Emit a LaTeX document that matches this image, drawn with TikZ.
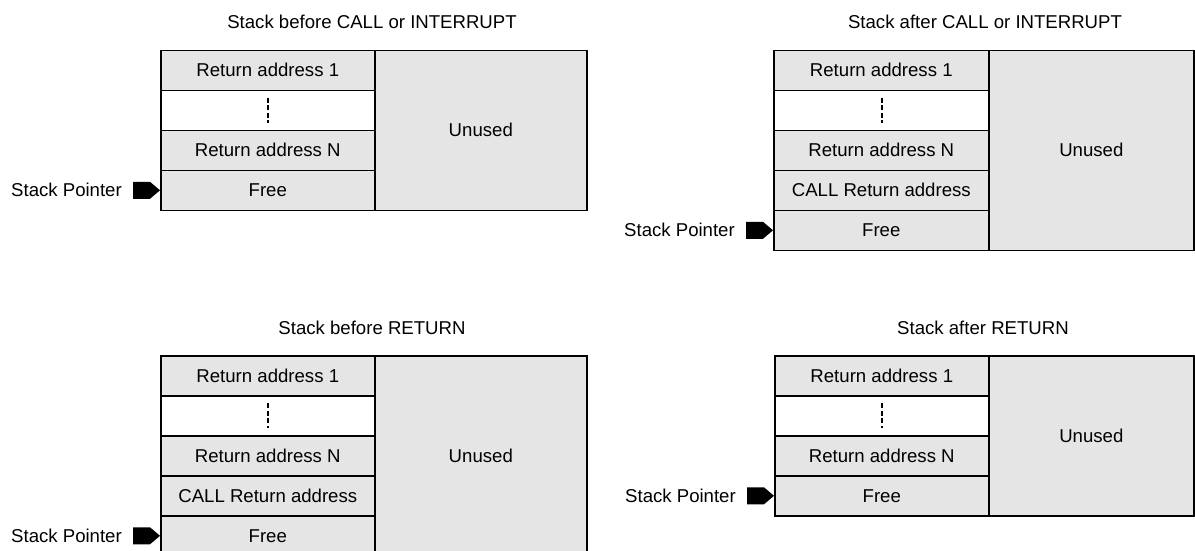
\documentclass[tikz,border=0pt]{standalone}
\usepackage{fontspec}
\setmainfont{Liberation Sans}
\begin{document}
\begin{tikzpicture}[x=1pt,y=-1pt,
  every node/.style={font=\fontsize{18.6}{20}\selectfont, inner sep=0pt},
  cell/.style={draw=black, line width=1.6pt, fill=black!10, anchor=north west,
    minimum width=214pt, minimum height=40pt},
  gapcell/.style={cell, fill=white},
  unused/.style={draw=black, line width=1.6pt, fill=black!10, anchor=north west,
    minimum width=#1, minimum height=160pt},
  tall/.style={minimum height=#1},
  title/.style={anchor=base},
  splabel/.style={anchor=east},
  ellipsis/.style={line width=1.6pt, dash pattern=on 5pt off 2.5pt},
  pics/sptr/.style={code={
    \fill[black] (-27,-8.5) -- (-10,-8.5) -- (0,0) -- (-10,8.5) -- (-27,8.5) -- cycle;
  }}
]
\useasboundingbox (0,0) rectangle (1195,550);

% ---- Stack before CALL or INTERRUPT ----
\node[title] (t1) at (372,28) {Stack before CALL or INTERRUPT};
\node[unused=212pt, tall=160pt] (u1) at (374,49.5) {Unused};
\node[cell] (a1) at (160,49.5) {Return address 1};
\node[gapcell] (g1) at (160,89.5) {};
\node[cell] (n1) at (160,129.5) {Return address N};
\node[cell] (f1) at (160,169.5) {Free};
\draw[ellipsis] ([yshift=12.5pt]g1.center) -- ([yshift=-12.5pt]g1.center);
\pic at (f1.west) {sptr};
\node[splabel] (s1) at ([xshift=-38pt]f1.west) {Stack Pointer};

% ---- Stack after CALL or INTERRUPT ----
\node[title] (t2) at (985,28) {Stack after CALL or INTERRUPT};
\node[unused=205pt, tall=200pt] (u2) at (988,49.5) {Unused};
\node[cell, minimum width=215pt] (a2) at (773,49.5) {Return address 1};
\node[gapcell, minimum width=215pt] (g2) at (773,89.5) {};
\node[cell, minimum width=215pt] (n2) at (773,129.5) {Return address N};
\node[cell, minimum width=215pt] (c2) at (773,169.5) {CALL Return address};
\node[cell, minimum width=215pt] (f2) at (773,209.5) {Free};
\draw[ellipsis] ([xshift=0.5pt,yshift=12.5pt]g2.center) -- ([xshift=0.5pt,yshift=-12.5pt]g2.center);
\pic at (f2.west) {sptr};
\node[splabel] (s2) at ([xshift=-38pt]f2.west) {Stack Pointer};

% ---- Stack before RETURN ----
\node[title] (t3) at (372,334) {Stack before RETURN};
\node[unused=212pt, tall=200pt] (u3) at (374,355) {Unused};
\node[cell] (a3) at (160,355) {Return address 1};
\node[gapcell] (g3) at (160,395) {};
\node[cell] (n3) at (160,435) {Return address N};
\node[cell] (c3) at (160,475) {CALL Return address};
\node[cell] (f3) at (160,515) {Free};
\draw[ellipsis] ([yshift=12.5pt]g3.center) -- ([yshift=-12.5pt]g3.center);
\pic at (f3.west) {sptr};
\node[splabel] (s3) at ([xshift=-38pt]f3.west) {Stack Pointer};

% ---- Stack after RETURN ----
\node[title] (t4) at (983,334) {Stack after RETURN};
\node[unused=205pt, tall=160pt] (u4) at (988,355) {Unused};
\node[cell] (a4) at (774,355) {Return address 1};
\node[gapcell] (g4) at (774,395) {};
\node[cell] (n4) at (774,435) {Return address N};
\node[cell] (f4) at (774,475) {Free};
\draw[ellipsis] ([yshift=12.5pt]g4.center) -- ([yshift=-12.5pt]g4.center);
\pic at (f4.west) {sptr};
\node[splabel] (s4) at ([xshift=-38pt]f4.west) {Stack Pointer};
\end{tikzpicture}
\end{document}
